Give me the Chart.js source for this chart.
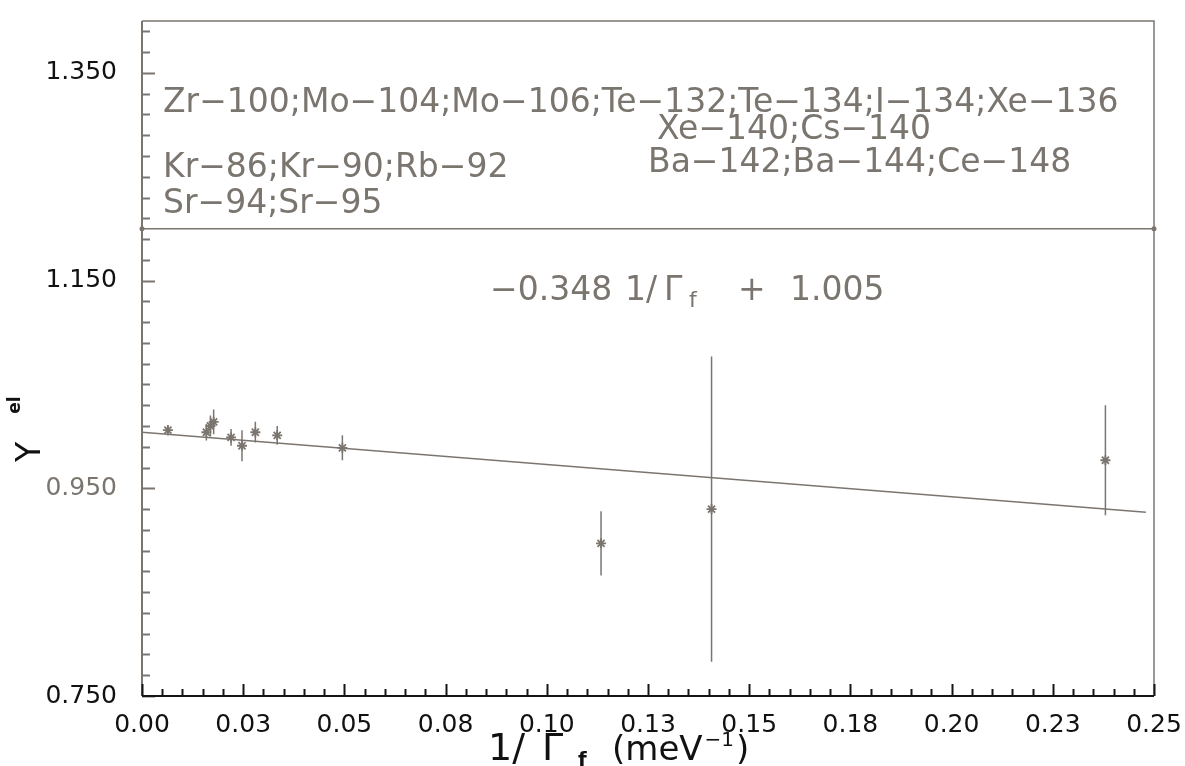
<!DOCTYPE html>
<html>
<head>
<meta charset="utf-8">
<script src="https://cdn.jsdelivr.net/npm/chart.js@4.4.0/dist/chart.umd.min.js"></script>
<style>
    html, body { margin: 0; padding: 0; background: #fff; }
    #wrap { width: 1185px; height: 766px; }
</style>
</head>
<body>
<div id="wrap"><canvas id="grafik" width="1185" height="766"></canvas></div>
<script>
// nilai (1/Gamma_f, Y_el, galat)
const xVals = [0.0064, 0.0159, 0.0169, 0.0177, 0.0220, 0.0247, 0.0280, 0.0334, 0.0495, 0.1134, 0.1407, 0.2380];
const yVals = [1.006, 1.004, 1.010, 1.014, 0.999, 0.991, 1.004, 1.001, 0.989, 0.897, 0.930, 0.977];
const yErr  = [0.005, 0.008, 0.010, 0.012, 0.008, 0.015, 0.010, 0.009, 0.012, 0.031, 0.147, 0.053];

// garis fit dan garis pemisah kotak teks
const fitX = [0.0, 0.248];
const fitY = [1.004, 0.927];
const boxX = [0.0, 0.25];
const boxY = [1.20, 1.20];

// label sumbu
const xTickLabels = ["0.00", "0.03", "0.05", "0.08", "0.10", "0.13", "0.15", "0.18", "0.20", "0.23", "0.25"];
const yTickLabels = ["0.750", "0.950", "1.150", "1.350"];

const abu = "#7b756f";
const FONT = "'DejaVu Sans', 'Liberation Sans', sans-serif";

document.addEventListener("DOMContentLoaded", function () {
    const ctx = document.getElementById("grafik").getContext("2d");

    const errData = [];
    xVals.forEach((x, i) => {
        errData.push({ x: x, y: yVals[i] - yErr[i] });
        errData.push({ x: x, y: yVals[i] + yErr[i] });
        errData.push({ x: x, y: null });
    });

    // sumbu dengan tik kecil ke dalam
    const bingkai = {
        id: "bingkai",
        beforeDatasetsDraw(chart) {
            const c = chart.ctx;
            const a = chart.chartArea;
            const sx = chart.scales.x;
            const sy = chart.scales.y;
            c.save();
            c.strokeStyle = abu;
            c.lineWidth = 1.5;
            c.beginPath();
            c.moveTo(a.left, a.top);
            c.lineTo(a.right, a.top);
            c.lineTo(a.right, a.bottom);
            c.stroke();

            c.lineWidth = 2;
            c.beginPath();
            c.moveTo(a.left, a.top);
            c.lineTo(a.left, a.bottom);
            c.stroke();
            sy.ticks.forEach((t, i) => {
                const py = Math.round(sy.getPixelForValue(t.value)) + 0.5;
                const len = i % 10 === 0 ? 13 : 8;
                c.beginPath();
                c.moveTo(a.left, py);
                c.lineTo(a.left + len, py);
                c.stroke();
            });

            c.strokeStyle = "#151515";
            c.beginPath();
            c.moveTo(a.left, a.bottom);
            c.lineTo(a.right, a.bottom);
            c.stroke();
            sx.ticks.forEach((t, i) => {
                const px = Math.round(sx.getPixelForValue(t.value)) + 0.5;
                const len = i % 5 === 0 ? 12 : 7;
                c.beginPath();
                c.moveTo(px, a.bottom);
                c.lineTo(px, a.bottom - len);
                c.stroke();
            });
            c.restore();
        }
    };

    // teks di dalam plot dan judul sumbu
    const teks = {
        id: "teks",
        afterDraw(chart) {
            const c = chart.ctx;
            c.save();
            c.fillStyle = abu;
            c.textBaseline = "alphabetic";
            c.textAlign = "left";
            c.font = "33px " + FONT;
            c.fillText("Zr\u2212100;Mo\u2212104;Mo\u2212106;Te\u2212132;Te\u2212134;I\u2212134;Xe\u2212136", 163, 112);
            c.fillText("Xe\u2212140;Cs\u2212140", 657, 139);
            c.fillText("Kr\u221286;Kr\u221290;Rb\u221292", 163, 177);
            c.fillText("Ba\u2212142;Ba\u2212144;Ce\u2212148", 648, 172);
            c.fillText("Sr\u221294;Sr\u221295", 163, 213);

            c.fillText("\u22120.348", 490, 300);
            c.fillText("1/", 625, 300);
            c.fillText("\u0393", 664, 300);
            c.font = "22px " + FONT;
            c.fillText("f", 689, 307);
            c.font = "33px " + FONT;
            c.fillText("+", 738, 300);
            c.fillText("1.005", 790, 300);

            // judul sumbu x
            c.fillStyle = "#111";
            c.font = "38px " + FONT;
            c.fillText("1/", 488, 760);
            c.fillText("\u0393", 542, 760);
            c.font = "bold 20px " + FONT;
            c.fillText("f", 578, 766);
            c.font = "34px " + FONT;
            c.fillText("(meV", 612, 760);
            let w = c.measureText("(meV").width;
            c.font = "20px " + FONT;
            c.fillText("\u22121", 612 + w + 2, 746);
            let w2 = c.measureText("\u22121").width;
            c.font = "34px " + FONT;
            c.fillText(")", 612 + w + w2 + 4, 760);

            // judul sumbu y
            c.textAlign = "center";
            c.textBaseline = "middle";
            c.save();
            c.translate(31, 452);
            c.rotate(-Math.PI / 2);
            c.font = "33px " + FONT;
            c.fillText("Y", 0, 0);
            c.restore();
            c.save();
            c.translate(16, 405);
            c.rotate(-Math.PI / 2);
            c.font = "bold 17px " + FONT;
            c.fillText("el", 0, 0);
            c.restore();
            c.restore();
        }
    };

    const grafik = new Chart(ctx, {
        type: "scatter",
        data: {
            datasets: [
                {
                    label: "kotak",
                    data: boxX.map((x, i) => ({ x: x, y: boxY[i] })),
                    showLine: true,
                    borderColor: abu,
                    borderWidth: 1.5,
                    pointRadius: 2.5,
                    pointBackgroundColor: abu,
                    pointBorderWidth: 0,
                    clip: false,
                },
                {
                    label: "fit",
                    data: fitX.map((x, i) => ({ x: x, y: fitY[i] })),
                    showLine: true,
                    borderColor: abu,
                    borderWidth: 1.5,
                    pointRadius: 0,
                },
                {
                    label: "galat",
                    data: errData,
                    showLine: true,
                    spanGaps: false,
                    borderColor: abu,
                    borderWidth: 1.5,
                    pointRadius: 0,
                },
                {
                    label: "Y el",
                    data: xVals.map((x, i) => ({ x: x, y: yVals[i] })),
                    pointStyle: "star",
                    pointRadius: 5,
                    borderColor: abu,
                    borderWidth: 1.8,
                    backgroundColor: abu,
                },
            ],
        },
        options: {
            responsive: false,
            animation: false,
            devicePixelRatio: 1,
            layout: { padding: { top: 21, right: 31, bottom: 0, left: 0 } },
            plugins: {
                legend: { display: false },
                tooltip: { enabled: false },
            },
            scales: {
                x: {
                    type: "linear",
                    min: 0,
                    max: 0.25,
                    afterBuildTicks: (s) => {
                        const t = [];
                        for (let k = 0; k <= 50; k++) t.push({ value: k * 0.005 });
                        s.ticks = t;
                    },
                    afterFit: (s) => {
                        s.height = 70;
                        s.paddingLeft = 0;
                        s.paddingRight = 0;
                    },
                    grid: { display: false },
                    border: { display: false },
                    ticks: {
                        autoSkip: false,
                        maxRotation: 0,
                        padding: 6,
                        color: "#111",
                        font: { family: FONT, size: 25 },
                        callback: function (value, index) {
                            return index % 5 === 0 ? xTickLabels[index / 5] : "";
                        },
                    },
                },
                y: {
                    type: "linear",
                    min: 0.75,
                    max: 1.40,
                    afterBuildTicks: (s) => {
                        const t = [];
                        for (let k = 0; k <= 32; k++) t.push({ value: 0.75 + k * 0.02 });
                        s.ticks = t;
                    },
                    afterFit: (s) => {
                        s.width = 142;
                        s.paddingTop = 0;
                        s.paddingBottom = 0;
                    },
                    grid: { display: false },
                    border: { display: false },
                    ticks: {
                        autoSkip: false,
                        padding: 17,
                        font: { family: FONT, size: 25 },
                        color: (c) => (c.index === 10 ? abu : "#111"),
                        callback: function (value, index) {
                            return index % 10 === 0 ? yTickLabels[index / 10] : "";
                        },
                    },
                },
            },
        },
        plugins: [bingkai, teks],
    });
});
</script>
</body>
</html>
